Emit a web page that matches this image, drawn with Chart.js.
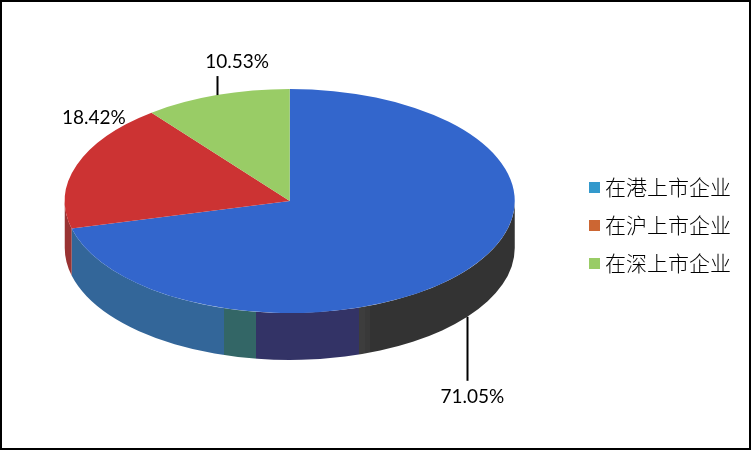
<!DOCTYPE html>
<html>
<head>
<meta charset="utf-8">
<script src="https://cdn.jsdelivr.net/npm/chart.js@4"></script>
<style>
body { margin: 0; background: #fff; }
canvas { display: block; }
</style>
</head>
<body>
<canvas id="pieChart" width="751" height="450"></canvas>
<script>
const categories = ["在港上市企业", "在沪上市企业", "在深上市企业"];
const shares = [71.05, 18.42, 10.53];
const shareLabels = ["71.05%", "18.42%", "10.53%"];

const topColors = ["#3366cc", "#cc3333", "#99cc66"];
const legendColors = ["#3399cc", "#cc6633", "#99cc66"];
const wallColors = ["#333333", "#993333", "#669933"];

// the blue wall changes colour along x, these are the bands
const bandEdges = [224, 256, 359, 365, 370];
const bandColors = ["#336699", "#336666", "#333366", "#3d3d3d", "#393939", "#333333"];

const squash = 112 / 225;
const depth = 47;
const centerY = 201;

function blueWallFill(ctx) {
    const g = ctx.createLinearGradient(0, 0, 751, 0);
    bandColors.forEach((c, i) => {
        const from = i == 0 ? 0 : bandEdges[i - 1] / 751;
        const to = i == bandEdges.length ? 1 : bandEdges[i] / 751;
        g.addColorStop(from, c);
        g.addColorStop(to, c);
    });
    return g;
}

// legend swatch, wider than the box so the text sits closer to it
function swatch(color) {
    const c = document.createElement("canvas");
    c.width = 11;
    c.height = 11;
    const x = c.getContext("2d");
    x.fillStyle = color;
    x.fillRect(0, 0, 11, 11);
    return c;
}

const tiltPlugin = {
    id: "tilt",
    beforeDatasetsDraw(chart) {
        const ctx = chart.ctx;
        const arcs = chart.getDatasetMeta(0).data;

        // side wall, only the part of each slice facing the viewer
        arcs.forEach((arc, i) => {
            const a = Math.max(arc.startAngle, 0);
            const b = Math.min(arc.endAngle, Math.PI);
            if (b <= a)
                return;
            const rx = arc.outerRadius;
            const ry = rx * squash;
            ctx.beginPath();
            ctx.ellipse(arc.x, centerY, rx, ry, 0, a, b);
            ctx.ellipse(arc.x, centerY + depth, rx, ry, 0, b, a, true);
            ctx.closePath();
            ctx.fillStyle = i == 0 ? blueWallFill(ctx) : wallColors[i];
            ctx.fill();
        });

        ctx.save();
        ctx.translate(0, centerY);
        ctx.scale(1, squash);
        ctx.translate(0, -arcs[0].y);
    },
    afterDatasetsDraw(chart) {
        const ctx = chart.ctx;
        ctx.restore();

        const arcs = chart.getDatasetMeta(0).data;
        ctx.font = "19px Lato";
        ctx.fillStyle = "#000";
        ctx.textAlign = "center";
        ctx.textBaseline = "middle";

        arcs.forEach((arc, i) => {
            const mid = (arc.startAngle + arc.endAngle) / 2;
            const x = arc.x + Math.cos(mid) * arc.outerRadius;
            let y = centerY + Math.sin(mid) * arc.outerRadius * squash;
            if (Math.sin(mid) > 0)
                y += depth;

            let ly = y;
            if (i == 0) {
                ly = y + 64;
                ctx.fillText(shareLabels[i], x + 5, ly + 16);
            } else if (i == 1) {
                ctx.fillText(shareLabels[i], x + 17, y - 47);
            } else {
                ly = y - 19;
                ctx.fillText(shareLabels[i], x + 20.5, ly - 14);
            }

            if (ly != y) {
                ctx.beginPath();
                ctx.moveTo(Math.round(x) + 0.5, y);
                ctx.lineTo(Math.round(x) + 0.5, ly);
                ctx.lineWidth = 2;
                ctx.strokeStyle = "#000";
                ctx.stroke();
            }
        });

        // frame
        ctx.strokeStyle = "#000";
        ctx.lineWidth = 2;
        ctx.strokeRect(1, 1, 749, 448);
    }
};

new Chart(pieChart, {
    type: "pie",
    plugins: [tiltPlugin],
    data: {
        labels: categories,
        datasets: [{
            data: shares,
            backgroundColor: topColors,
            borderWidth: 0
        }]
    },
    options: {
        responsive: false,
        animation: false,
        layout: {
            padding: { left: 3, right: 10 }
        },
        plugins: {
            tooltip: { enabled: false },
            legend: {
                position: "right",
                labels: {
                    usePointStyle: true,
                    pointStyleWidth: 1,
                    boxHeight: 11,
                    padding: 17,
                    color: "#000",
                    font: { family: "'Noto Sans CJK SC'", size: 21, weight: "300" },
                    generateLabels() {
                        return categories.map((c, i) => ({
                            text: c,
                            fillStyle: legendColors[i],
                            strokeStyle: legendColors[i],
                            lineWidth: 0,
                            pointStyle: swatch(legendColors[i]),
                            index: i
                        }));
                    }
                }
            }
        }
    }
});
</script>
</body>
</html>
